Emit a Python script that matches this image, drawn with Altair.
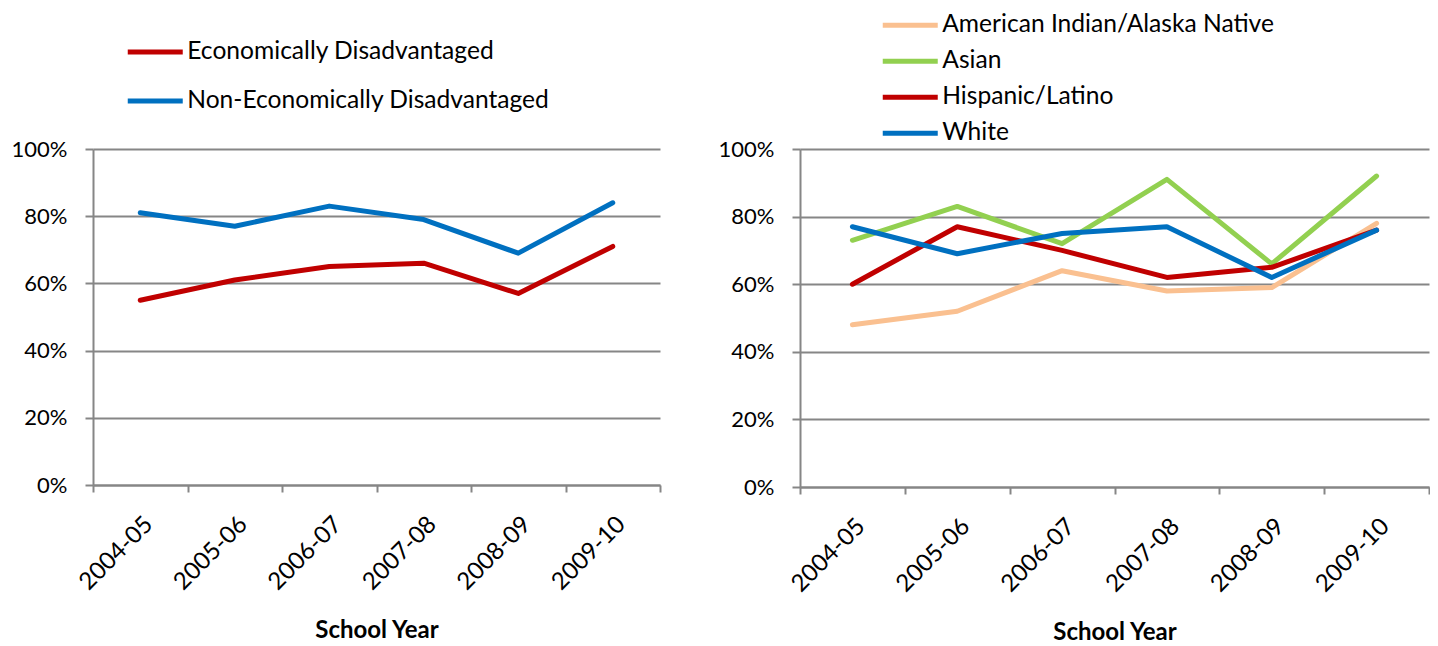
import altair as alt
import pandas as pd

years = ["2004-05", "2005-06", "2006-07", "2007-08", "2008-09", "2009-10"]

econ_dis = [55, 61, 65, 66, 57, 71]
non_econ_dis = [81, 77, 83, 79, 69, 84]

ai_an = [48, 52, 64, 58, 59, 78]
asian = [73, 83, 72, 91, 66, 92]
hispanic = [60, 77, 70, 62, 65, 76]
white = [77, 69, 75, 77, 62, 76]

left_series = ["Economically Disadvantaged", "Non-Economically Disadvantaged"]
left_colors = ["#C00000", "#0070C0"]
right_series = ["American Indian/Alaska Native", "Asian", "Hispanic/Latino", "White"]
right_colors = ["#FAC090", "#92D050", "#C00000", "#0070C0"]

y_ticks = [0, 0.2, 0.4, 0.6, 0.8, 1.0]


def long_df(series_names, series_values):
    rows = []
    for name, vals in zip(series_names, series_values):
        for yr, v in zip(years, vals):
            rows.append({"year": yr, "series": name, "value": v / 100})
    return pd.DataFrame(rows)


left_df = long_df(left_series, [econ_dis, non_econ_dis])
right_df = long_df(right_series, [ai_an, asian, hispanic, white])

FONT = "Lato"
GRID = "#868686"


def panel(df, series, colors, w, h, lx, ly, rowpad):
    x = alt.X(
        "year:O",
        sort=years,
        scale=alt.Scale(type="band", paddingInner=0, paddingOuter=0),
        bandPosition=0.5,
        axis=alt.Axis(
            title="School Year",
            labelAngle=315,
            labelAlign="right",
            labelBaseline="top",
            labelFontSize=24,
            tickBand="extent",
            grid=False,
            tickSize=7,
            labelPadding=20,
            titlePadding=24,
            titleFontSize=24,
        ),
    )
    y = alt.Y(
        "value:Q",
        scale=alt.Scale(domain=[0, 1], nice=False),
        axis=alt.Axis(
            values=y_ticks,
            format=".0%",
            title=None,
            grid=True,
            tickSize=8,
            labelPadding=18,
        ),
    )
    color = alt.Color(
        "series:N",
        scale=alt.Scale(domain=series, range=colors),
        legend=alt.Legend(
            title=None,
            orient="none",
            legendX=lx,
            legendY=ly,
            symbolType="M-2,0H2",
            symbolSize=756.25,
            symbolOffset=13.75,
            symbolStrokeWidth=5,
            labelFontSize=24.6,
            labelFont=FONT,
            labelColor="#000000",
            labelOffset=15.5,
            labelLimit=600,
            rowPadding=rowpad,
            padding=0,
        ),
    )
    return (
        alt.Chart(df)
        .mark_line(strokeWidth=5, strokeCap="round", strokeJoin="round")
        .encode(x=x, y=y, color=color)
        .properties(width=w, height=h)
    )


left = panel(left_df, left_series, left_colors, 567, 336, 32, -113.5, 20)
right = panel(right_df, right_series, right_colors, 629, 338, 80, -140.25, 7)

chart = (
    alt.hconcat(left, right, spacing=140, bounds="flush")
    .resolve_scale(color="independent")
    .resolve_legend(color="independent")
    .properties(padding={"left": 3, "top": 0, "right": 0, "bottom": 0})
    .configure_view(stroke=None)
    .configure_axis(
        labelFont=FONT,
        labelFontSize=22,
        labelColor="#000000",
        titleFont=FONT,
        titleFontSize=22,
        titleFontWeight="bold",
        titleColor="#000000",
        gridColor=GRID,
        gridWidth=2,
        domainColor=GRID,
        domainWidth=2,
        tickColor=GRID,
        tickWidth=2,
    )
)

chart.save("out.html", embed_options={"renderer": "svg", "actions": False})
